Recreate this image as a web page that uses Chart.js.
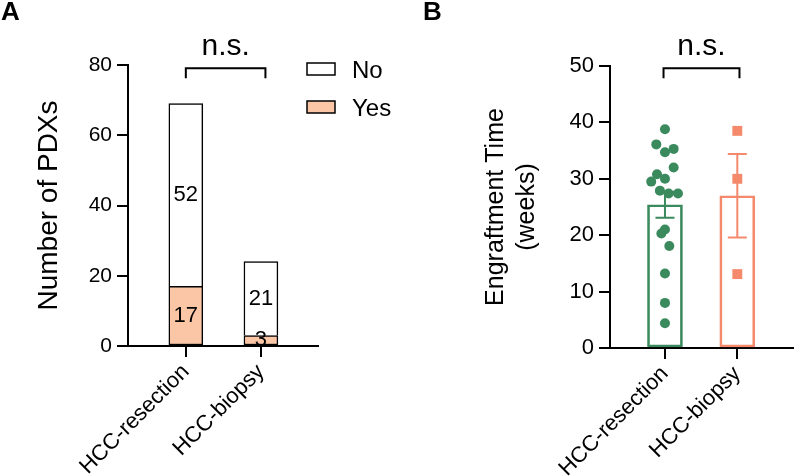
<!DOCTYPE html>
<html>
<head>
<meta charset="utf-8">
<script src="https://cdn.jsdelivr.net/npm/chart.js@4"></script>
<style>
  html, body { margin: 0; padding: 0; background: #ffffff; }
  #wrap { position: relative; width: 800px; height: 476px; overflow: hidden; background: #fff; }
  canvas { position: absolute; top: 0; }
  #cA { left: 0; }
  #cB { left: 400px; }
</style>
</head>
<body>
<div id="wrap">
  <canvas id="cA" width="400" height="476"></canvas>
  <canvas id="cB" width="400" height="476"></canvas>
</div>
<script>
// ---------- DATA ----------
const categories = ['HCC-resection', 'HCC-biopsy'];
const categoryIndex = [0, 1];

// Panel A: number of PDXs
const yesCounts = [17, 3];
const noCounts = [52, 21];
const yTicksA = [0, 20, 40, 60, 80];

// Panel B: engraftment time (weeks)
const meanWeeks = [25.4, 27.0];
const semWeeks = [2.3, 7.4];
const resectionWeeks = [38.8, 36.1, 35.3, 34.7, 32.0, 30.8, 30.0, 29.5, 27.9, 27.4, 27.4, 21.0, 20.3, 18.1, 13.2, 8.0, 4.4];
const resectionJitter = [0, -0.12, 0.12, 0, 0.12, -0.11, 0, -0.19, -0.07, 0.05, 0.18, 0, -0.05, 0.06, 0, 0, 0];
const biopsyWeeks = [38.5, 30.0, 13.1];
const biopsyJitter = [0, 0, 0];
const yTicksB = [0, 10, 20, 30, 40, 50];

const sigLabel = 'n.s.';

// ---------- STYLE ----------
const FONT = "'Liberation Sans', Arial, Helvetica, sans-serif";
Chart.defaults.font.family = FONT;
Chart.defaults.color = '#000';
const GREEN = '#3b8a5d';
const ORANGE = '#f4896b';
const PEACH = '#fac6a6';

function xTicksFixed(scale) { scale.ticks = categoryIndex.map(v => ({ value: v })); }

// Panel letter
function panelLetter(letter) {
  return {
    id: 'letter' + letter,
    afterDraw(chart) {
      const ctx = chart.ctx;
      ctx.save();
      ctx.font = 'bold 26px ' + FONT;
      ctx.fillStyle = '#000';
      ctx.textAlign = 'left';
      ctx.textBaseline = 'alphabetic';
      ctx.fillText(letter, letter === 'A' ? 1 : 23, 20);
      ctx.restore();
    }
  };
}

// significance bracket
function bracketPlugin(cfg) {
  return {
    id: 'bracket',
    afterDraw(chart) {
      const { ctx, scales: { x, y } } = chart;
      const x1 = x.getPixelForValue(cfg.from);
      const x2 = x.getPixelForValue(cfg.to);
      const yt = y.getPixelForValue(cfg.level);
      ctx.save();
      ctx.strokeStyle = '#000';
      ctx.lineWidth = 2;
      ctx.beginPath();
      ctx.moveTo(x1, yt + 10);
      ctx.lineTo(x1, yt);
      ctx.lineTo(x2, yt);
      ctx.lineTo(x2, yt + 10);
      ctx.stroke();
      ctx.font = '30px ' + FONT;
      ctx.fillStyle = '#000';
      ctx.textAlign = 'center';
      ctx.textBaseline = 'alphabetic';
      ctx.fillText(cfg.text, (x1 + x2) / 2, yt - 13);
      ctx.restore();
    }
  };
}

// values inside stacked segments
const segmentLabels = {
  id: 'segLabels',
  afterDatasetsDraw(chart) {
    const ctx = chart.ctx;
    ctx.save();
    ctx.font = '22px ' + FONT;
    ctx.fillStyle = '#000';
    ctx.textAlign = 'center';
    ctx.textBaseline = 'middle';
    chart.data.datasets.forEach((ds, di) => {
      const meta = chart.getDatasetMeta(di);
      meta.data.forEach((bar, i) => {
        const v = ds.data[i].y;
        ctx.fillText(String(v), bar.x, (bar.y + bar.base) / 2);
      });
    });
    ctx.restore();
  }
};

// legend drawn at the right of panel A
const legendA = {
  id: 'legendA',
  afterDraw(chart) {
    const ctx = chart.ctx;
    const items = chart.data.datasets.slice().reverse();
    ctx.save();
    items.forEach((ds, k) => {
      const top = 63 + k * 38;
      ctx.fillStyle = ds.backgroundColor;
      ctx.fillRect(307, top, 28, 12);
      ctx.strokeStyle = '#000';
      ctx.lineWidth = 1.5;
      ctx.strokeRect(307, top, 28, 12);
      ctx.font = '24px ' + FONT;
      ctx.fillStyle = '#000';
      ctx.textAlign = 'left';
      ctx.textBaseline = 'middle';
      ctx.fillText(ds.label, 352, top + 8);
    });
    ctx.restore();
  }
};

// error bars (mean ± SEM) drawn right after the bar dataset
const errorBars = {
  id: 'errorBars',
  afterDatasetDraw(chart, args) {
    if (args.index !== 0) return;
    const { ctx, scales: { x, y } } = chart;
    const colors = chart.data.datasets[0].borderColor;
    ctx.save();
    ctx.lineWidth = 2;
    meanWeeks.forEach((m, i) => {
      const px = x.getPixelForValue(categoryIndex[i]);
      const hi = y.getPixelForValue(m + semWeeks[i]);
      const lo = y.getPixelForValue(m - semWeeks[i]);
      ctx.strokeStyle = colors[i];
      ctx.beginPath();
      ctx.moveTo(px, hi); ctx.lineTo(px, lo);
      ctx.moveTo(px - 9.5, hi); ctx.lineTo(px + 9.5, hi);
      ctx.moveTo(px - 9.5, lo); ctx.lineTo(px + 9.5, lo);
      ctx.stroke();
    });
    ctx.restore();
  }
};

function commonScales(opts) {
  return {
    x: {
      type: 'linear',
      offset: false,
      bounds: 'data',
      min: opts.xmin, max: opts.xmax,
      stacked: opts.stacked,
      afterBuildTicks: xTicksFixed,
      afterFit(s) { s.height = opts.xHeight; },
      border: { display: true, color: '#000', width: 2 },
      grid: { display: true, offset: false, drawOnChartArea: false, drawTicks: true, tickLength: 11, color: '#000', lineWidth: 2 },
      ticks: {
        autoSkip: false, minRotation: 45, maxRotation: 45, padding: 2,
        font: { size: 22 }, color: '#000',
        callback: (v, i) => categories[i]
      }
    },
    y: {
      min: 0, max: opts.ymax,
      stacked: opts.stacked,
      afterBuildTicks(s) { s.ticks = opts.yTicks.map(v => ({ value: v })); },
      afterFit(s) { s.width = opts.yWidth; },
      border: { display: true, color: '#000', width: 2 },
      grid: { display: true, drawOnChartArea: false, drawTicks: true, tickLength: 11, color: '#000', lineWidth: 2 },
      ticks: { padding: 5, font: { size: opts.tickSize }, color: '#000' },
      title: {
        display: true, text: opts.title, color: '#000',
        font: { size: opts.titleSize, lineHeight: opts.titleLH },
        padding: { top: opts.titlePad, bottom: 0 }
      }
    }
  };
}

// ---------- PANEL A ----------
new Chart(document.getElementById('cA'), {
  type: 'bar',
  data: {
    datasets: [
      {
        label: 'Yes',
        data: categoryIndex.map((c, i) => ({ x: c, y: yesCounts[i] })),
        backgroundColor: PEACH, borderColor: '#000', borderWidth: 1.5, borderSkipped: false,
        barThickness: 34
      },
      {
        label: 'No',
        data: categoryIndex.map((c, i) => ({ x: c, y: noCounts[i] })),
        backgroundColor: '#ffffff', borderColor: '#000', borderWidth: 1.5, borderSkipped: 'bottom',
        barThickness: 34
      }
    ]
  },
  options: {
    responsive: false, animation: false, devicePixelRatio: 1,
    layout: { padding: { top: 65, right: 82, bottom: 0, left: 0 } },
    plugins: { legend: { display: false }, tooltip: { enabled: false } },
    scales: commonScales({
      xmin: -0.77, xmax: 1.76, stacked: true, xHeight: 130,
      ymax: 80, yTicks: yTicksA, yWidth: 128, tickSize: 21,
      title: 'Number of PDXs', titleSize: 28, titleLH: 1.2, titlePad: 32
    })
  },
  plugins: [segmentLabels, legendA, bracketPlugin({ from: 0, to: 1.06, level: 79.1, text: sigLabel }), panelLetter('A')]
});

// ---------- PANEL B ----------
new Chart(document.getElementById('cB'), {
  type: 'bar',
  data: {
    datasets: [
      {
        type: 'bar',
        label: 'Mean',
        order: 10,
        data: categoryIndex.map((c, i) => ({ x: c, y: meanWeeks[i] })),
        backgroundColor: 'rgba(255,255,255,0)',
        borderColor: [GREEN, ORANGE], borderWidth: 2, borderSkipped: false,
        barThickness: 35
      },
      {
        type: 'scatter',
        label: categories[0],
        order: 1,
        data: resectionWeeks.map((v, i) => ({ x: categoryIndex[0] + resectionJitter[i], y: v })),
        pointStyle: 'circle', pointRadius: 5, backgroundColor: GREEN, borderColor: GREEN, borderWidth: 0
      },
      {
        type: 'scatter',
        label: categories[1],
        order: 0,
        data: biopsyWeeks.map((v, i) => ({ x: categoryIndex[1] + biopsyJitter[i], y: v })),
        pointStyle: 'rect', pointRadius: 7, backgroundColor: ORANGE, borderColor: ORANGE, borderWidth: 0
      }
    ]
  },
  options: {
    responsive: false, animation: false, devicePixelRatio: 1,
    layout: { padding: { top: 66, right: 0, bottom: 0, left: 0 } },
    plugins: { legend: { display: false }, tooltip: { enabled: false } },
    scales: commonScales({
      xmin: -0.76, xmax: 1.77, stacked: false, xHeight: 128,
      ymax: 50, yTicks: yTicksB, yWidth: 210, tickSize: 22,
      title: ['Engraftment Time', '(weeks)'], titleSize: 25, titleLH: 1.25, titlePad: 80
    })
  },
  plugins: [errorBars, bracketPlugin({ from: -0.02, to: 1.03, level: 49.6, text: sigLabel }), panelLetter('B')]
});
</script>
</body>
</html>
